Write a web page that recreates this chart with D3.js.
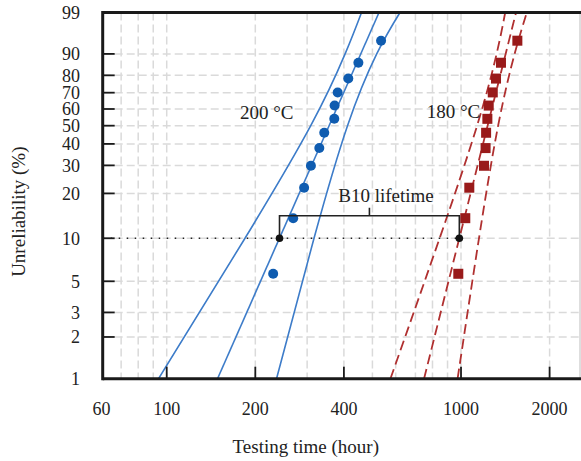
<!DOCTYPE html>
<html><head><meta charset="utf-8">
<script src="https://cdn.jsdelivr.net/npm/d3@7"></script>
<style>body{margin:0;background:#fff}svg{display:block}text{font-family:"Liberation Serif","Times New Roman",serif;fill:#222}</style>
</head><body><svg id="c" width="581" height="461"></svg>
<script>
// ---- data ----
const yTicks = [1, 2, 3, 5, 10, 20, 30, 40, 50, 60, 70, 80, 90, 99];
const xTickLabels = [60, 100, 200, 400, 1000, 2000];
const xTickMarks = [100, 200, 400, 1000, 2000];
const xGrid = [70, 80, 90, 100, 200, 300, 400, 500, 600, 700, 800, 900, 1000, 2000];
const rankF = [5.65, 13.71, 21.77, 29.84, 37.90, 45.97, 54.03, 62.10, 70.16, 78.23, 86.29, 94.35];
const blueTimes = [230, 269, 293, 309, 330, 343, 371, 372, 381, 414, 448, 535];
const redTimes = [979, 1034, 1067, 1197, 1212, 1217, 1229, 1242, 1282, 1315, 1367, 1554];
const fitF = [1, 99];
const blueFitT = [148.8, 526.5];
const redFitT = [748.8, 1538];
const boundF = [1, 10, 50, 90, 99];
const blueLowerT = [93.8, 184.5, 308.6, 403.8, 459.2];
const blueUpperT = [236.1, 316.6, 411.5, 517.1, 620.4];
const redLowerT = [575.6, 845.9, 1134, 1321, 1413];
const redUpperT = [973.6, 1151, 1337, 1521, 1674];
const b10F = 10;
const b10T = [241.7, 987];

// ---- scales ----
const W = p => Math.log(-Math.log(1 - p / 100));
const x = d3.scaleLog().domain([60.6, 2537]).range([102.7, 580]);
const yw = d3.scaleLinear().domain([W(1), W(99)]).range([378.7, 12.5]);
const y = p => yw(W(p));
const L = 102.7, R = 580, T = 12.5, B = 378.7;

const svg = d3.select("#c");
const defs = svg.append("defs");
defs.append("clipPath").attr("id", "clip").append("rect")
  .attr("x", L).attr("y", T).attr("width", R - L).attr("height", B - T);

// grid
const g = svg.append("g");
g.selectAll(".hg").data(yTicks.filter(d => d > 1 && d < 99)).join("line")
  .attr("x1", L).attr("x2", R).attr("y1", d => y(d)).attr("y2", d => y(d))
  .attr("stroke", "#dadada").attr("stroke-width", 1.5).attr("stroke-dasharray", "8,4");
g.selectAll(".vg").data(xGrid).join("line")
  .attr("x1", d => x(d)).attr("x2", d => x(d)).attr("y1", T).attr("y2", B)
  .attr("stroke", "#dadada").attr("stroke-width", 1.5).attr("stroke-dasharray", "8,4");

// right thin border
svg.append("line").attr("x1", R).attr("x2", R).attr("y1", T).attr("y2", B)
  .attr("stroke", "#bdbdbd").attr("stroke-width", 1);

const plot = svg.append("g").attr("clip-path", "url(#clip)");
const lineGen = d3.line().x(d => x(d[0])).y(d => y(d[1]));
const curveGen = d3.line().x(d => x(d[0])).y(d => y(d[1])).curve(d3.curveNatural);
const zip = (ts, fs) => ts.map((t, i) => [t, fs[i]]);

// blue lines
plot.append("path").attr("d", lineGen(zip(blueFitT, fitF)))
  .attr("fill", "none").attr("stroke", "#3d7cc9").attr("stroke-width", 1.6);
[blueLowerT, blueUpperT].forEach(ts => {
  plot.append("path").attr("d", curveGen(zip(ts, boundF)))
    .attr("fill", "none").attr("stroke", "#3d7cc9").attr("stroke-width", 1.6);
});
// red lines
plot.append("path").attr("d", lineGen(zip(redFitT, fitF)))
  .attr("fill", "none").attr("stroke", "#b03030").attr("stroke-width", 1.8).attr("stroke-dasharray", "10,5");
[redLowerT, redUpperT].forEach(ts => {
  plot.append("path").attr("d", curveGen(zip(ts, boundF)))
    .attr("fill", "none").attr("stroke", "#b03030").attr("stroke-width", 1.8).attr("stroke-dasharray", "10,5");
});

// B10 dotted line
svg.append("line").attr("x1", L).attr("x2", x(b10T[1])).attr("y1", y(b10F)).attr("y2", y(b10F))
  .attr("stroke", "#222").attr("stroke-width", 1.5).attr("stroke-dasharray", "1.5,6.5");

// markers
svg.append("g").selectAll("circle").data(blueTimes).join("circle")
  .attr("cx", d => x(d)).attr("cy", (d, i) => y(rankF[i])).attr("r", 5).attr("fill", "#0f5cb0");
svg.append("g").selectAll("rect").data(redTimes).join("rect")
  .attr("x", d => x(d) - 5).attr("y", (d, i) => y(rankF[i]) - 5).attr("width", 10).attr("height", 10).attr("fill", "#991a1a");

// bracket
const by = y(b10F), bt = 215.7;
const bx0 = x(b10T[0]), bx1 = x(b10T[1]), bm = (bx0 + bx1) / 2;
svg.append("path").attr("d", `M${bx0},${by}V${bt}H${bx1}V${by}M${bm},${bt}V${bt - 8}`)
  .attr("fill", "none").attr("stroke", "#222").attr("stroke-width", 1.6);
svg.append("g").selectAll("circle").data(b10T).join("circle")
  .attr("cx", d => x(d)).attr("cy", by).attr("r", 3.8).attr("fill", "#111");

// axes lines
svg.append("line").attr("x1", L).attr("x2", R + 1).attr("y1", T).attr("y2", T).attr("stroke", "#1a1a1a").attr("stroke-width", 3);
svg.append("line").attr("x1", L).attr("x2", R + 1).attr("y1", B).attr("y2", B).attr("stroke", "#1a1a1a").attr("stroke-width", 3);
svg.append("line").attr("x1", L).attr("x2", L).attr("y1", T - 1.5).attr("y2", B + 1.5).attr("stroke", "#1a1a1a").attr("stroke-width", 3);

// ticks
svg.append("g").selectAll("line").data(yTicks.filter(d => d > 1 && d < 99)).join("line")
  .attr("x1", L).attr("x2", L + 12).attr("y1", d => y(d)).attr("y2", d => y(d))
  .attr("stroke", "#1a1a1a").attr("stroke-width", 1.8);
svg.append("g").selectAll("line").data(xTickMarks).join("line")
  .attr("x1", d => x(d)).attr("x2", d => x(d)).attr("y1", B).attr("y2", B - 12)
  .attr("stroke", "#1a1a1a").attr("stroke-width", 1.8);

// tick labels
svg.append("g").selectAll("text").data(yTicks).join("text")
  .attr("x", 80).attr("y", d => y(d)).attr("dy", "0.36em").attr("text-anchor", "end")
  .attr("font-size", 18).text(d => d);
svg.append("g").selectAll("text").data(xTickLabels).join("text")
  .attr("x", d => x(d)).attr("y", 415).attr("text-anchor", "middle")
  .attr("font-size", 18).text(d => d);

// titles
svg.append("text").attr("x", 305.8).attr("y", 452.5).attr("text-anchor", "middle").attr("font-size", 19).text("Testing time (hour)");
svg.append("text").attr("transform", "translate(25,211.7) rotate(-90)").attr("text-anchor", "middle").attr("font-size", 19).text("Unreliability (%)");

// annotations
svg.append("text").attr("x", 240).attr("y", 119.3).attr("font-size", 19).text("200 °C");
svg.append("text").attr("x", 426.7).attr("y", 118.3).attr("font-size", 19).text("180 °C");
svg.append("text").attr("x", 338.3).attr("y", 201.7).attr("font-size", 19).text("B10 lifetime");
</script></body></html>
